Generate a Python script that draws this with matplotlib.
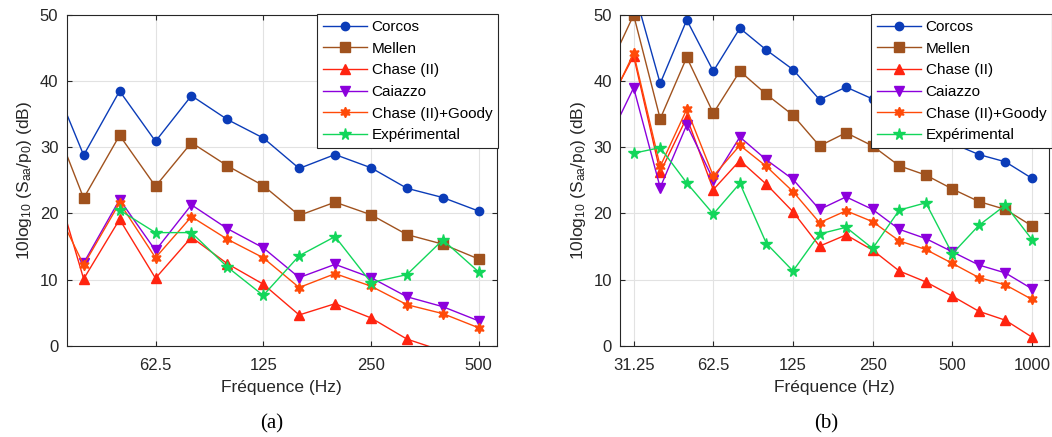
import numpy as np
import matplotlib
matplotlib.use('Agg')
import matplotlib.pyplot as plt
from matplotlib.ticker import FixedLocator, FixedFormatter, NullLocator

plt.rcParams['font.family'] = ['Liberation Sans', 'DejaVu Sans']
plt.rcParams['mathtext.fontset'] = 'custom'
plt.rcParams['mathtext.rm'] = 'Liberation Sans'
plt.rcParams['mathtext.it'] = 'Liberation Sans'

nan = np.nan

# bandes de tiers d'octave
freq_a = [31.25, 39.37, 49.61, 62.5, 78.75, 99.21, 125, 157.5, 198.4, 250, 315, 396.9, 500]
freq_b = [24.8, 31.25, 39.37, 49.61, 62.5, 78.75, 99.21, 125, 157.5, 198.4, 250, 315, 396.9, 500,
          630, 793.7, 1000]

# (a)
corcos_a = [42.0, 28.8, 38.5, 30.9, 37.8, 34.2, 31.4, 26.8, 28.9, 26.9, 23.8, 22.4, 20.35]
mellen_a = [36.2, 22.3, 31.8, 24.1, 30.7, 27.2, 24.2, 19.7, 21.7, 19.8, 16.8, 15.35, 13.1]
chase_a = [28.5, 10.1, 19.1, 10.2, 16.4, 12.4, 9.3, 4.65, 6.35, 4.2, 1.0, -0.8, -2.5]
caiazzo_a = [nan, 12.5, 22.1, 14.4, 21.3, 17.7, 14.8, 10.3, 12.3, 10.3, 7.4, 5.9, 3.75]
goody_a = [23.4, 12.2, 21.6, 13.3, 19.5, 16.1, 13.3, 8.8, 10.9, 9.0, 6.2, 4.85, 2.7]
exp_a = [nan, nan, 20.5, 17.1, 17.1, 11.9, 7.6, 13.6, 16.5, 9.55, 10.75, 16.0, 11.15]

# (b)
corcos_b = [55.0, 54.0, 39.65, 49.25, 41.5, 48.0, 44.7, 41.75, 37.2, 39.1, 37.3, 35.3, 33.0, 30.6,
            28.9, 27.8, 25.3]
mellen_b = [41.4, 50.0, 34.3, 43.6, 35.15, 41.5, 38.0, 34.85, 30.2, 32.2, 30.2, 27.2, 25.8, 23.7,
            21.8, 20.6, 18.1]
chase_b = [36.2, 43.8, 26.2, 34.5, 23.6, 28.0, 24.4, 20.25, 15.05, 16.75, 14.45, 11.3, 9.65, 7.5,
           5.2, 3.85, 1.3]
caiazzo_b = [30.7, 39.0, 23.9, 33.4, 25.1, 31.55, 28.1, 25.15, 20.6, 22.5, 20.6, 17.6, 16.2, 14.2,
             12.2, 11.0, 8.6]
goody_b = [35.8, 44.2, 27.1, 35.75, 25.65, 30.3, 27.1, 23.3, 18.6, 20.4, 18.75, 15.85, 14.55, 12.45,
           10.3, 9.2, 7.0]
exp_b = [nan, 29.1, 29.95, 24.6, 19.9, 24.55, 15.45, 11.3, 16.9, 17.9, 14.7, 20.5, 21.6, 13.9,
         18.2, 21.25, 16.05]

labels = ['Corcos', 'Mellen', 'Chase (II)', 'Caiazzo', 'Chase (II)+Goody', 'Expérimental']
colors = ['#0B3CB8', '#A0521E', '#FF2410', '#8C00DC', '#FF4A08', '#12D65A']
markers = ['o', 's', '^', 'v', (6, 1, 0), '*']
msizes = [6, 6.5, 6.5, 6.5, 7.5, 8.5]

fig = plt.figure(figsize=(10.52, 4.37), dpi=100)
ax_a = fig.add_axes([0.0634, 0.2089, 0.4087, 0.7568])
ax_b = fig.add_axes([0.5897, 0.2089, 0.4075, 0.7568])


def draw(ax, freq, series, xticks, xlim, leg_anchor):
    for s, lab, c, m, ms in zip(series, labels, colors, markers, msizes):
        ax.plot(freq, s, color=c, marker=m, markersize=ms, markerfacecolor=c,
                markeredgecolor=c, linewidth=1.0, label=lab)
    ax.set_xscale('log')
    ax.set_xlim(xlim)
    ax.set_ylim(0, 50)
    ax.xaxis.set_major_locator(FixedLocator(xticks))
    ax.xaxis.set_major_formatter(FixedFormatter([('%g' % t) for t in xticks]))
    ax.xaxis.set_minor_locator(NullLocator())
    ax.set_yticks([0, 10, 20, 30, 40, 50])
    ax.grid(True, color='#E2E2E2', linewidth=0.8)
    ax.set_axisbelow(True)
    ax.tick_params(direction='in', length=3.5, width=0.8, top=True, right=True,
                   labelsize=12, colors='#262626')
    ax.tick_params(axis='x', pad=9)
    ax.tick_params(axis='y', pad=6)
    for sp in ax.spines.values():
        sp.set_color('#262626')
        sp.set_linewidth(0.8)
    ax.set_xlabel('Fréquence (Hz)', fontsize=12.5, color='#262626', labelpad=5)
    ax.set_ylabel(r'10log$_{10}$ (S$_{aa}$/p$_0$) (dB)', fontsize=12.5, color='#262626',
                  labelpad=4)
    leg = ax.legend(loc='upper right', bbox_to_anchor=leg_anchor, borderaxespad=0,
                    fontsize=11, fancybox=False, framealpha=1, edgecolor='#262626',
                    handlelength=2.9, labelspacing=0.5, borderpad=0.4, handletextpad=0.3)
    leg.get_frame().set_linewidth(0.8)


draw(ax_a, freq_a, [corcos_a, mellen_a, chase_a, caiazzo_a, goody_a, exp_a],
     [62.5, 125, 250, 500], (35.3, 561), (1.004, 1.003))
draw(ax_b, freq_b, [corcos_b, mellen_b, chase_b, caiazzo_b, goody_b, exp_b],
     [31.25, 62.5, 125, 250, 500, 1000], (27.84, 1160), (1.008, 1.003))

fig.text(271.8 / 1052, 1 - 424 / 437, '(a)', ha='center', va='center',
         family='Liberation Serif', fontsize=15)
fig.text(825.8 / 1052, 1 - 424 / 437, '(b)', ha='center', va='center',
         family='Liberation Serif', fontsize=15)

fig.savefig('out.png', dpi=100)
